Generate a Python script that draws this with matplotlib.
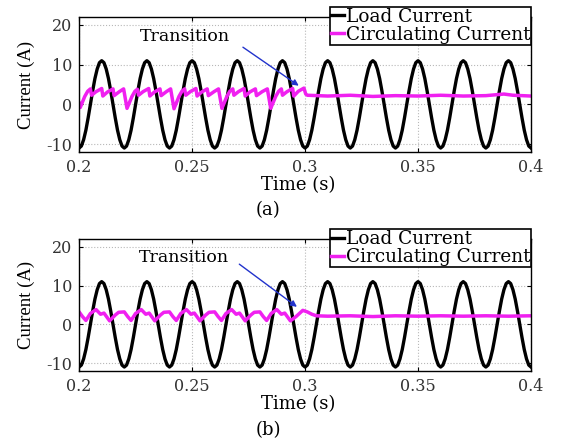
import numpy as np
from matplotlib import pyplot as plt

load_cycle = [-11.0, -10.5, -8.9, -6.5, -3.4, 0.0, 3.4, 6.5, 8.9, 10.5,
              11.0, 10.5, 8.9, 6.5, 3.4, 0.0, -3.4, -6.5, -8.9, -10.5]
n_cycles = 10
t_start = 0.2
dt_load = 0.001

# circulating current, case (a): sawtooth ripple then flat after the transition
circ_a_t = [0.2000, 0.2005, 0.2025, 0.2038, 0.2050, 0.2055, 0.2075, 0.2100, 0.2105, 0.2125,
            0.2150, 0.2155, 0.2178, 0.2197, 0.2212, 0.2234, 0.2247, 0.2258, 0.2263, 0.2283,
            0.2308, 0.2313, 0.2333, 0.2358, 0.2363, 0.2386, 0.2405, 0.2420, 0.2442, 0.2455,
            0.2467, 0.2472, 0.2492, 0.2517, 0.2522, 0.2542, 0.2567, 0.2572, 0.2597, 0.2617,
            0.2632, 0.2654, 0.2667, 0.2680, 0.2685, 0.2705, 0.2730, 0.2735, 0.2755, 0.2780,
            0.2785, 0.2810, 0.2833, 0.2848, 0.2870, 0.2883, 0.2895, 0.2900, 0.2920, 0.2945,
            0.2950, 0.2970, 0.2995, 0.3003, 0.3010, 0.3100, 0.3200, 0.3300, 0.3400, 0.3500,
            0.3600, 0.3700, 0.3800, 0.3880, 0.3920, 0.3960, 0.4000]
circ_a_i = [0.3, -0.8, 2.0, 3.3, 3.9, 2.3, 3.2, 4.0, 2.1, 3.1,
            3.9, 2.2, 3.2, 3.9, -1.0, 2.0, 3.3, 3.8, 2.3, 3.2,
            4.0, 2.1, 3.1, 3.9, 2.2, 3.2, 3.9, -1.1, 2.0, 3.3,
            3.9, 2.3, 3.2, 4.0, 2.1, 3.1, 3.9, 2.2, 3.2, 3.9,
            -1.0, 2.0, 3.3, 3.9, 2.3, 3.2, 4.0, 2.1, 3.1, 3.9,
            2.2, 3.2, 3.9, -1.0, 2.0, 3.3, 3.9, 2.3, 3.2, 4.0,
            2.1, 3.3, 4.1, 2.6, 2.3, 2.1, 2.3, 2.0, 2.2, 2.1,
            2.3, 2.1, 2.2, 2.6, 2.3, 2.2, 2.1]

# circulating current, case (b): one 20 ms ripple period (offset s, value A), then transition
circ_b_off = [0.0, 0.0015, 0.0030, 0.0050, 0.0075, 0.0095, 0.0110, 0.0135, 0.0160, 0.0175]
circ_b_val = [3.2, 2.0, 1.0, 2.8, 3.8, 2.6, 2.9, 0.9, 2.4, 3.1]
n_ripple = 5
circ_b_tail_t = [0.2960, 0.2990, 0.3010, 0.3030, 0.3050, 0.3100, 0.3200, 0.3300, 0.3400,
                 0.3500, 0.3600, 0.3700, 0.3800, 0.3900, 0.4000]
circ_b_tail_i = [2.0, 3.6, 3.2, 2.6, 2.2, 2.1, 2.2, 2.0, 2.2, 2.1, 2.2, 2.1, 2.2, 2.1, 2.2]

xticks = [0.2, 0.25, 0.3, 0.35, 0.4]
xticklabels = ['0.2', '0.25', '0.3', '0.35', '0.4']
yticks = [-10, 0, 10, 20]
panel_tags = ['(a)', '(b)']
text_pos = [(0.2470, 17.0), (0.2464, 17.2)]
arrow_from = [(0.2725, 14.4), (0.2709, 15.5)]
arrow_to = [(0.2972, 4.7), (0.2964, 4.5)]

plt.rcParams['font.family'] = ['DejaVu Serif']
plt.rcParams['axes.unicode_minus'] = False

load_i = np.array(load_cycle * n_cycles + [load_cycle[0]])
load_t = t_start + dt_load * np.arange(len(load_i))

b_t = []
b_i = []
for k in range(n_ripple):
    for o, v in zip(circ_b_off, circ_b_val):
        b_t.append(t_start + 0.02 * k + o)
        b_i.append(v)
b_t = [x for x in b_t if x < circ_b_tail_t[0]]
b_i = b_i[:len(b_t)]
b_t += circ_b_tail_t
b_i += circ_b_tail_i

circ = [(circ_a_t, circ_a_i), (b_t, b_i)]

fig = plt.figure(figsize=(5.61, 4.40), dpi=100)
axes = [fig.add_axes([0.141, 0.6545, 0.8056, 0.3068]),
        fig.add_axes([0.141, 0.157, 0.8056, 0.300])]
tag_y = [0.522, 0.022]

for n, ax in enumerate(axes):
    ax.plot(load_t, load_i, color='black', lw=2.4, label='Load Current')
    ax.plot(circ[n][0], circ[n][1], color='#f020f0', lw=2.5, label='Circulating Current')
    ax.set_xlim(0.2, 0.4)
    ax.set_ylim(-12, 22)
    ax.set_xticks(xticks)
    ax.set_xticklabels(xticklabels)
    ax.set_yticks(yticks)
    ax.grid(True, color='#b8b8b8', ls=':', lw=0.8)
    ax.tick_params(direction='in', top=True, right=True, labelsize=11.5,
                   labelcolor='#333333', length=3, pad=5)
    for s in ax.spines.values():
        s.set_linewidth(1.0)
    ax.set_xlabel('Time (s)', fontsize=13, x=0.485, labelpad=0)
    ax.set_ylabel('Current (A)', fontsize=13.5, labelpad=8, family='Liberation Serif')
    ax.text(*text_pos[n], 'Transition', ha='center', va='center', fontsize=12.5)
    ax.annotate('', xy=arrow_to[n], xytext=arrow_from[n],
                arrowprops=dict(arrowstyle='-|>', color='#2233cc', lw=1.0,
                                mutation_scale=9, shrinkA=0, shrinkB=0))
    leg = ax.legend(loc='upper right', bbox_to_anchor=(1.0, 1.074), borderaxespad=0,
                    fontsize=13.3, handlelength=0.7, handletextpad=0.1, borderpad=0.05,
                    labelspacing=0.0, fancybox=False, framealpha=1, edgecolor='black')
    leg.get_frame().set_linewidth(1.2)
    fig.text(0.478, tag_y[n], panel_tags[n], ha='center', va='center', fontsize=13)

fig.savefig('out.png', dpi=100)
